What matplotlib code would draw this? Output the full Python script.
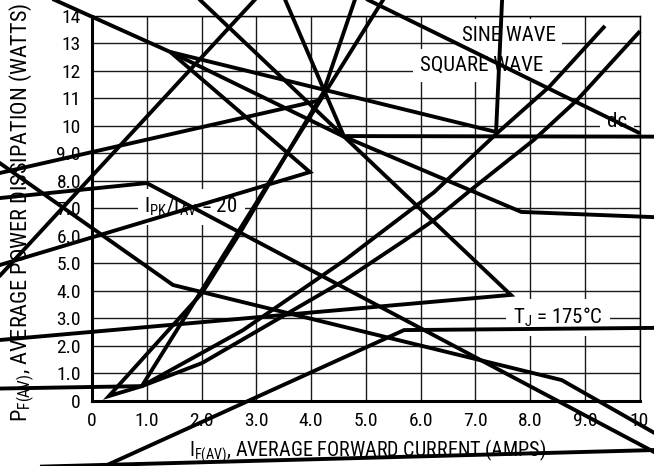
import matplotlib
matplotlib.use("Agg")
import matplotlib.pyplot as plt
from matplotlib import font_manager as fm

# look for a narrow sans face, the chart uses a condensed Helvetica
narrow_name, narrow_stretch = None, 'normal'
best = 99
prefs = ['Liberation Sans Narrow', 'Arial Narrow', 'Roboto Condensed', 'Open Sans Condensed',
         'Noto Sans Condensed', 'DejaVu Sans Condensed']
for f in fm.fontManager.ttflist:
    if f.style != 'normal' or str(f.weight) not in ('400', 'normal', 'regular'):
        continue
    cond = f.stretch in ('condensed', 'semi-condensed', 'extra-condensed')
    if f.name in prefs:
        rank = prefs.index(f.name)
    elif cond and f.name in ('Liberation Sans', 'Roboto', 'Open Sans', 'Noto Sans', 'Lato', 'Inter', 'DejaVu Sans'):
        rank = 10
    elif 'Narrow' in f.name or 'Condensed' in f.name:
        rank = 20
    else:
        continue
    if rank < best:
        best, narrow_name, narrow_stretch = rank, f.name, f.stretch

if narrow_name:
    plt.rcParams['font.family'] = [narrow_name, 'DejaVu Sans']
    plt.rcParams['font.stretch'] = narrow_stretch
    plt.rcParams['mathtext.fontset'] = 'custom'
    plt.rcParams['mathtext.rm'] = narrow_name + ':stretch=' + str(narrow_stretch)
    ylab_size, xlab_size = 16, 14.5
else:
    plt.rcParams['font.family'] = ['Liberation Sans', 'DejaVu Sans']
    plt.rcParams['mathtext.fontset'] = 'custom'
    plt.rcParams['mathtext.rm'] = 'Liberation Sans'
    ylab_size, xlab_size = 12, 13

# axis ticks
x_ticks = list(range(0, 11))
x_tick_labels = ['0', '1.0', '2.0', '3.0', '4.0', '5.0', '6.0', '7.0', '8.0', '9.0', '10']
y_ticks = list(range(0, 15))
y_tick_labels = ['0', '1.0', '2.0', '3.0', '4.0', '5.0', '6.0', '7.0', '8.0', '9.0',
                 '10', '11', '12', '13', '14']

# curves (data units; they run past the axes)
a_x = [-1.2, 1.43, 4.58, 7.84, 10.27, 10.6]
a_y = [15.05, 12.69, 9.63, 6.87, 6.68, 6.66]

d_x = [1.43, 7.38, 7.49, 7.50]
d_y = [12.69, 9.78, 14.58, 15.1]

e_x = [1.43, 3.98, -1.68, -2.0]
e_y = [12.69, 8.32, 4.94, 4.75]

c_x = [3.45, 4.60, 10.27, 10.6]
c_y = [14.95, 9.63, 9.61, 9.61]

long_x = [1.78, 7.65, -1.68, -2.0]
long_y = [14.95, 3.85, 2.21, 2.15]

f_x = [-2.05, 1.48, 8.58, 10.27, 10.6]
f_y = [9.16, 4.21, 0.75, -1.17, -1.55]

g_x = [-2.05, 1.0, 10.27, 10.6]
g_y = [7.30, 7.92, -1.87, -2.22]

h_x = [-0.33, 5.70, 10.27, 10.6]
h_y = [-2.89, 2.57, 2.65, 2.66]

i_x = [-0.95, 10.56]
i_y = [-2.40, -1.78]

k_x = [-2.09, 3.14]
k_y = [3.67, 14.95]

dc_x = [4.67, 10.01]
dc_y = [14.95, 9.73]

q_x = [-2.05, 0.91, 5.43]
q_y = [0.43, 0.53, 14.95]

j_x = [-2.05, 4.18]
j_y = [8.12, 10.94]

# steep curve down to the V, then the sine wave curve up
sine_x = [4.87, 4.80, 4.22, 2.70, 2.01, 0.31, 0.91, 2.76, 4.62, 5.10, 6.25, 7.40, 8.35, 9.37]
sine_y = [14.95, 14.58, 11.20, 6.10, 3.92, 0.17, 0.53, 2.57, 5.12, 5.85, 7.59, 9.74, 11.42, 13.64]

square_x = [0.91, 2.01, 4.62, 5.72, 6.25, 6.92, 8.07, 8.86, 10.01]
square_y = [0.53, 1.37, 4.39, 5.85, 6.58, 7.67, 9.49, 10.94, 13.45]

curves = [(a_x, a_y), (d_x, d_y), (e_x, e_y), (c_x, c_y), (long_x, long_y),
          (f_x, f_y), (g_x, g_y), (h_x, h_y), (i_x, i_y), (k_x, k_y),
          (dc_x, dc_y), (q_x, q_y), (j_x, j_y), (sine_x, sine_y), (square_x, square_y)]

fig = plt.figure(figsize=(6.54, 4.66), dpi=100)
ax = fig.add_axes([92 / 654, 65.3 / 466, 547.5 / 654, 384.7 / 466])
ax.set_xlim(0, 10)
ax.set_ylim(0, 14)
ax.set_xticks(x_ticks)
ax.set_xticklabels(x_tick_labels)
ax.set_yticks(y_ticks)
ax.set_yticklabels(y_tick_labels)
ax.tick_params(length=0, pad=8, labelsize=14)
ax.set_axisbelow(True)
ax.grid(True, color='#1a1a1a', lw=1.0)
for s in ['top', 'right']:
    ax.spines[s].set_linewidth(1.0)
for s in ['left', 'bottom']:
    ax.spines[s].set_linewidth(2.2)

ax.set_xlabel(r'$\mathregular{I_{F(AV)}}$, AVERAGE FORWARD CURRENT (AMPS)', fontsize=xlab_size)
ax.set_ylabel(r'$\mathregular{P_{F(AV)}}$, AVERAGE POWER DISSIPATION (WATTS)', fontsize=ylab_size)
ax.xaxis.set_label_coords(0.503, -0.095)
ax.yaxis.set_label_coords(-0.100, 0.489)

box = dict(facecolor='white', edgecolor='none', pad=5)
ax.text(7.61, 13.28, 'SINE WAVE', fontsize=15, ha='center', va='center', bbox=box, zorder=2)
ax.text(7.11, 12.2, 'SQUARE WAVE', fontsize=15, ha='center', va='center', bbox=box, zorder=2)
ax.text(9.59, 10.17, 'dc', fontsize=15, ha='center', va='center', bbox=box, zorder=2)
ax.text(1.81, 7.05, r'$\mathregular{I_{PK}/I_{AV}}$ = 20', fontsize=15, ha='center', va='center',
        bbox=box, zorder=2)
ax.text(8.51, 3.02, r'$\mathregular{T_J}$ = 175°C', fontsize=15, ha='center', va='center',
        bbox=box, zorder=2)

for xs, ys in curves:
    ax.plot(xs, ys, color='black', lw=2.8, clip_on=False, zorder=4,
            solid_capstyle='butt', solid_joinstyle='miter')

fig.savefig('out.png', dpi=100)
